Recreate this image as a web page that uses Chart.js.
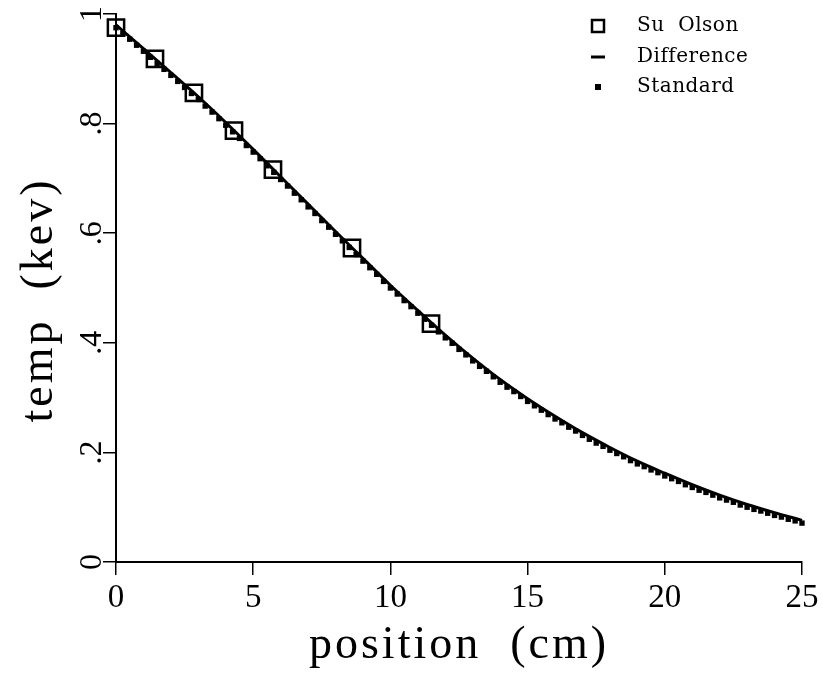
<!DOCTYPE html>
<html>
<head>
<meta charset="utf-8">
<script src="https://cdn.jsdelivr.net/npm/chart.js@4"></script>
<style>
  html, body { margin: 0; padding: 0; background: #fff; }
  #wrap { width: 823px; height: 674px; }
</style>
</head>
<body>
<div id="wrap"><canvas id="myChart"></canvas></div>
<script>
// Su Olson benchmark points
let suOlsonX = [0, 1.42, 2.84, 4.3, 5.72, 8.6, 11.48];
let suOlsonY = [0.975, 0.918, 0.856, 0.787, 0.716, 0.573, 0.435];

// Difference curve (solid line), read at every cm
let diffX = [0, 1, 2, 3, 4, 5, 6, 7, 8, 9, 10, 11, 12, 13, 14, 15, 16, 17, 18, 19, 20, 21, 22, 23, 24, 25];
let diffY = [0.980, 0.937, 0.893, 0.849, 0.802, 0.753, 0.703, 0.653, 0.603, 0.554, 0.505, 0.459, 0.414,
             0.372, 0.333, 0.298, 0.266, 0.236, 0.209, 0.184, 0.162, 0.141, 0.122, 0.105, 0.090, 0.076];

// Standard (dots), every 0.25 cm
let stdX = [0, 0.25, 0.5, 0.75, 1, 1.25, 1.5, 1.75, 2, 2.25, 2.5, 2.75, 3, 3.25, 3.5, 3.75, 4, 4.25, 4.5, 4.75,
            5, 5.25, 5.5, 5.75, 6, 6.25, 6.5, 6.75, 7, 7.25, 7.5, 7.75, 8, 8.25, 8.5, 8.75, 9, 9.25, 9.5, 9.75,
            10, 10.25, 10.5, 10.75, 11, 11.25, 11.5, 11.75, 12, 12.25, 12.5, 12.75, 13, 13.25, 13.5, 13.75,
            14, 14.25, 14.5, 14.75, 15, 15.25, 15.5, 15.75, 16, 16.25, 16.5, 16.75, 17, 17.25, 17.5, 17.75,
            18, 18.25, 18.5, 18.75, 19, 19.25, 19.5, 19.75, 20, 20.25, 20.5, 20.75, 21, 21.25, 21.5, 21.75,
            22, 22.25, 22.5, 22.75, 23, 23.25, 23.5, 23.75, 24, 24.25, 24.5, 24.75, 25];
let stdY = [0.975, 0.964, 0.954, 0.943, 0.932, 0.921, 0.910, 0.899, 0.888, 0.877, 0.866, 0.855,
            0.844, 0.832, 0.821, 0.809, 0.797, 0.785, 0.773, 0.760, 0.748, 0.736, 0.723, 0.711,
            0.698, 0.686, 0.673, 0.661, 0.648, 0.636, 0.623, 0.611, 0.598, 0.586, 0.574, 0.561,
            0.549, 0.537, 0.525, 0.512, 0.500, 0.489, 0.477, 0.466, 0.454, 0.443, 0.432, 0.420,
            0.409, 0.399, 0.388, 0.378, 0.367, 0.357, 0.348, 0.338, 0.328, 0.319, 0.311, 0.302,
            0.293, 0.285, 0.277, 0.269, 0.261, 0.254, 0.246, 0.239, 0.231, 0.224, 0.217, 0.211,
            0.204, 0.198, 0.192, 0.185, 0.179, 0.174, 0.168, 0.163, 0.157, 0.152, 0.147, 0.141,
            0.136, 0.131, 0.127, 0.122, 0.117, 0.113, 0.109, 0.104, 0.100, 0.096, 0.093, 0.089,
            0.085, 0.082, 0.078, 0.075, 0.071];

let yTickLabels = ['0', '.2', '.4', '.6', '.8', '1'];
let legendLabels = ['Su  Olson', 'Difference', 'Standard'];
let xTitle = 'position  (cm)';
let yTitle = 'temp  (kev)';

const toPoints = (xs, ys) => xs.map((x, i) => ({ x: x, y: ys[i] }));

const serif = '"Liberation Serif", "DejaVu Serif", serif';

// draws rotated y tick labels, axis titles and the legend
const extras = {
    id: 'extras',
    afterDraw(chart) {
        const c = chart.ctx;
        const ys = chart.scales.y;
        c.save();
        c.fillStyle = '#000';

        // y tick labels, rotated
        c.font = '32px ' + serif;
        c.textAlign = 'center';
        c.textBaseline = 'middle';
        yTickLabels.forEach((lab, i) => {
            const py = ys.getPixelForValue(i * 0.2);
            c.save();
            c.translate(93, py);
            c.rotate(-Math.PI / 2);
            c.fillText(lab, 0, 0);
            c.restore();
        });

        // axis titles
        c.font = '46px ' + serif;
        c.letterSpacing = '3px';
        c.textBaseline = 'alphabetic';
        const area = chart.chartArea;
        c.fillText(xTitle, (area.left + area.right) / 2, 658);
        c.save();
        c.translate(52, 300);
        c.rotate(-Math.PI / 2);
        c.fillText(yTitle, 0, 0);
        c.restore();
        c.letterSpacing = '0px';

        // legend
        c.font = '20px "DejaVu Serif", serif';
        c.letterSpacing = '0.5px';
        c.textAlign = 'left';
        c.textBaseline = 'middle';
        const rows = [26, 57, 87];
        const mx = 598;
        c.strokeStyle = '#000';
        c.lineWidth = 2.5;
        c.strokeRect(mx - 6, rows[0] - 6, 12, 12);
        c.lineWidth = 3;
        c.beginPath();
        c.moveTo(mx - 7, rows[1]);
        c.lineTo(mx + 7, rows[1]);
        c.stroke();
        c.fillRect(mx - 3, rows[2] - 3, 6, 6);
        legendLabels.forEach((lab, i) => {
            c.fillText(lab, 637, rows[i]);
        });
        c.restore();
    }
};

const ctx = document.getElementById('myChart').getContext('2d');
const myChart = new Chart(ctx, {
    type: 'scatter',
    data: {
        datasets: [
            {
                label: 'Su Olson',
                data: toPoints(suOlsonX, suOlsonY),
                pointStyle: 'rect',
                pointRadius: 11.5,
                pointBorderWidth: 2.5,
                pointBorderColor: '#000',
                pointBackgroundColor: 'rgba(0,0,0,0)',
                showLine: false,
                clip: false
            },
            {
                label: 'Difference',
                data: toPoints(diffX, diffY),
                showLine: true,
                borderColor: '#000',
                borderWidth: 3,
                pointRadius: 0,
                cubicInterpolationMode: 'monotone',
                clip: false
            },
            {
                label: 'Standard',
                data: toPoints(stdX, stdY),
                pointStyle: 'rect',
                pointRadius: 3.8,
                pointBorderWidth: 0,
                pointBackgroundColor: '#000',
                showLine: false,
                clip: false
            }
        ]
    },
    options: {
        responsive: true,
        maintainAspectRatio: false,
        animation: false,
        layout: { padding: { top: 12, right: 21, left: 0, bottom: 0 } },
        plugins: {
            legend: { display: false },
            tooltip: { enabled: false }
        },
        scales: {
            x: {
                type: 'linear',
                min: 0,
                max: 25,
                ticks: {
                    stepSize: 5,
                    color: '#000',
                    padding: 4,
                    maxRotation: 0,
                    font: { family: serif, size: 33 }
                },
                grid: {
                    drawOnChartArea: false,
                    drawTicks: true,
                    tickLength: 13,
                    color: '#000',
                    lineWidth: 1.5
                },
                border: { display: true, color: '#000', width: 2 },
                afterFit(scale) { scale.height = 112; }
            },
            y: {
                type: 'linear',
                min: 0,
                max: 1,
                ticks: {
                    stepSize: 0.2,
                    display: false
                },
                grid: {
                    drawOnChartArea: false,
                    drawTicks: true,
                    tickLength: 13,
                    color: '#000',
                    lineWidth: 1.5
                },
                border: { display: true, color: '#000', width: 2 },
                afterFit(scale) { scale.width = 116; }
            }
        }
    },
    plugins: [extras]
});
</script>
</body>
</html>
